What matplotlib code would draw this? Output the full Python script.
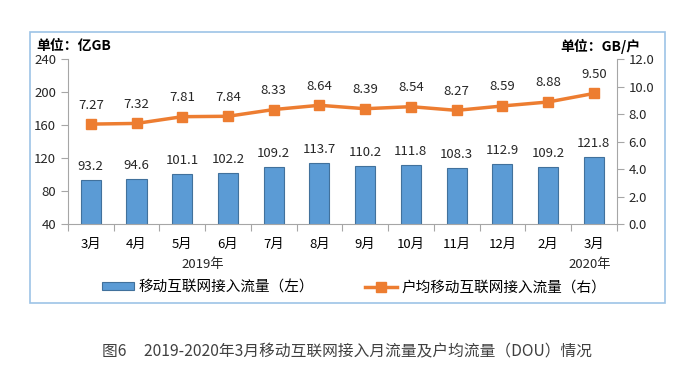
import matplotlib.pyplot as plt
from matplotlib.patches import Rectangle

plt.rcParams['font.family'] = ['Noto Sans CJK SC', 'DejaVu Sans']

months = ["3月", "4月", "5月", "6月", "7月", "8月", "9月", "10月", "11月", "12月", "2月", "3月"]
traffic = [93.2, 94.6, 101.1, 102.2, 109.2, 113.7, 110.2, 111.8, 108.3, 112.9, 109.2, 121.8]
dou = [7.27, 7.32, 7.81, 7.84, 8.33, 8.64, 8.39, 8.54, 8.27, 8.59, 8.88, 9.50]

bar_color = "#5b9bd5"
line_color = "#ed7d31"
axis_gray = "#a6a6a6"

fig = plt.figure(figsize=(7, 3.79), dpi=100)
fig.patches.append(Rectangle((0.043, 0.2), 0.907, 0.716, transform=fig.transFigure,
                             fill=False, edgecolor="#9dc3e6", linewidth=1.2))

ax = fig.add_axes([0.097, 0.409, 0.784, 0.435])
x = list(range(len(months)))

ax.bar(x, traffic, width=0.44, color=bar_color, edgecolor="#41719c", linewidth=0.8,
       label="移动互联网接入流量（左）", zorder=2)
for xi, v in zip(x, traffic):
    ax.annotate(f"{v:.1f}", (xi, v), xytext=(0, 5), textcoords="offset points",
                ha="center", va="bottom", fontsize=9.5, color="#262626")

ax.set_ylim(40, 240)
ax.set_yticks(range(40, 241, 40))
ax.set_xlim(-0.5, len(months) - 0.5)
ax.set_xticks([i - 0.5 for i in range(len(months) + 1)])
ax.set_xticklabels([])
ax.set_xticks(x, minor=True)
ax.set_xticklabels(months, minor=True)
ax.tick_params(axis="x", which="minor", length=0, pad=10, labelsize=9.5)
ax.tick_params(axis="x", which="major", length=5, color=axis_gray)
ax.tick_params(axis="y", length=5, color=axis_gray, labelsize=9.5, labelcolor="#262626")
for s in ["top", "right"]:
    ax.spines[s].set_visible(False)
for s in ["left", "bottom"]:
    ax.spines[s].set_color(axis_gray)

ax2 = ax.twinx()
ax2.plot(x, dou, color=line_color, linewidth=2.5, marker="s", markersize=7,
         label="户均移动互联网接入流量（右）", zorder=3)
for xi, v in zip(x, dou):
    ax2.annotate(f"{v:.2f}", (xi, v), xytext=(0, 9), textcoords="offset points",
                 ha="center", va="bottom", fontsize=9.5, color="#262626")
ax2.set_ylim(0, 12)
ax2.set_yticks([0, 2, 4, 6, 8, 10, 12])
ax2.set_yticklabels([f"{v:.1f}" for v in [0, 2, 4, 6, 8, 10, 12]])
ax2.tick_params(axis="y", length=5, color=axis_gray, labelsize=9.5, labelcolor="#262626")
for s in ["top", "left", "bottom"]:
    ax2.spines[s].set_visible(False)
ax2.spines["right"].set_color(axis_gray)

fig.text(0.29, 0.302, "2019年", ha="center", va="center", fontsize=9.5, color="#262626")
fig.text(0.843, 0.302, "2020年", ha="center", va="center", fontsize=9.5, color="#262626")

fig.text(0.052, 0.878, "单位：亿GB", ha="left", va="center", fontsize=10, fontweight="bold")
fig.text(0.915, 0.878, "单位：GB/户", ha="right", va="center", fontsize=10, fontweight="bold")

h1, l1 = ax.get_legend_handles_labels()
h2, l2 = ax2.get_legend_handles_labels()
fig.legend(h1 + h2, l1 + l2, loc="center left", bbox_to_anchor=(0.146, 0.242), ncol=2,
           frameon=False, fontsize=10.5, columnspacing=3.5, handlelength=2.2,
           handleheight=0.5, handletextpad=0.3, borderpad=0, borderaxespad=0)

fig.text(0.496, 0.071, "图6     2019-2020年3月移动互联网接入月流量及户均流量（DOU）情况",
         ha="center", va="center", fontsize=11.3, color="#404040")

fig.savefig("out.png", dpi=100)
